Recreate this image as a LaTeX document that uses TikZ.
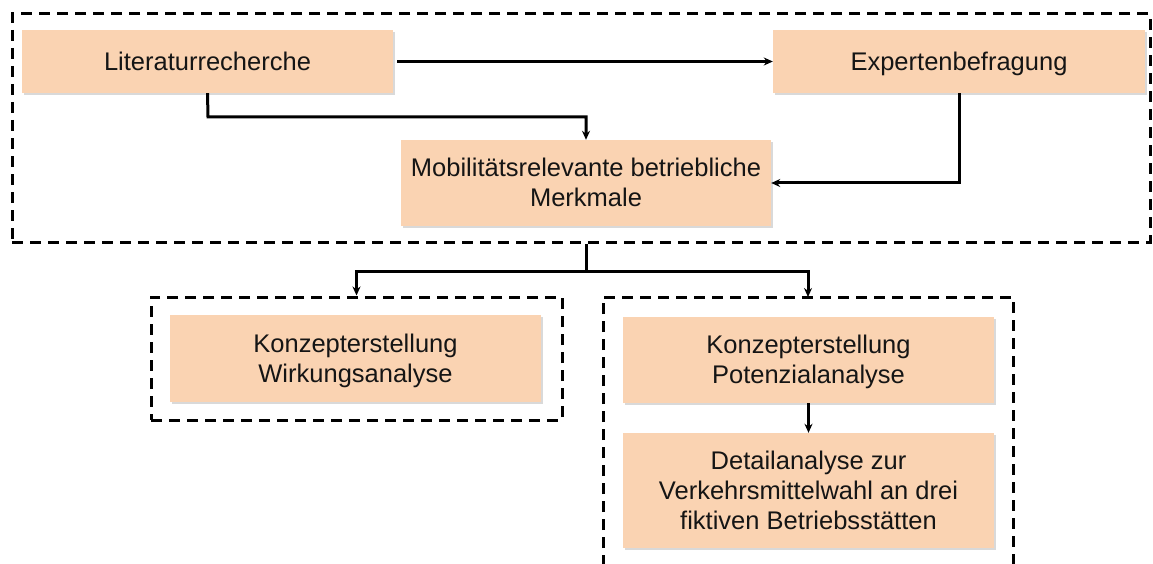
\documentclass[tikz,border=0pt]{standalone}
\usepackage{fontspec}
\setmainfont{Liberation Sans}
\usetikzlibrary{arrows.meta,shadows}
\definecolor{peach}{HTML}{FAD3B2}
\definecolor{ink}{HTML}{151515}
\newcommand{\bxs}{\rule[-5pt]{0pt}{28pt}}
\begin{document}
\begin{tikzpicture}[x=1pt,y=-1pt,
  box/.style={fill=peach,draw=none,inner sep=0pt,align=center,
    font=\fontsize{25.5}{30}\selectfont,text=ink,
    drop shadow={shadow xshift=1.5pt,shadow yshift=-2pt,opacity=0.25,fill=black!60}},
  grp/.style={draw=black,line width=3pt,dash pattern=on 11pt off 7pt},
  conn/.style={draw=black,line width=3pt,-{Stealth[length=9pt,width=8pt]}},
  plain/.style={draw=black,line width=3pt}]
\useasboundingbox (0,0) rectangle (1153,564);
% boxes
\node[box,minimum width=371pt,minimum height=63pt] (lit) at (207.5,61.5) {\bxs Literaturrecherche};
\node[box,minimum width=372pt,minimum height=63pt] (exp) at (959,61.5) {\bxs Expertenbefragung};
\node[box,minimum width=370pt,minimum height=86pt] (mob) at (586,183) {\bxs Mobilitätsrelevante betriebliche\\\bxs Merkmale};
\node[box,minimum width=371pt,minimum height=87pt] (wir) at (355.5,358.5) {\bxs Konzepterstellung\\\bxs Wirkungsanalyse};
\node[box,minimum width=371pt,minimum height=86pt] (pot) at (808.5,360) {\bxs Konzepterstellung\\\bxs Potenzialanalyse};
\node[box,minimum width=371pt,minimum height=115pt] (det) at (808.5,490.5) {\bxs Detailanalyse zur\\\bxs Verkehrsmittelwahl an drei\\\bxs fiktiven Betriebsstätten};
% group frames
\node[grp,minimum width=1138pt,minimum height=228pt,inner sep=0pt] (top) at (581,128) {};
\node[grp,minimum width=411pt,minimum height=123pt,inner sep=0pt] (left) at (356.5,358.5) {};
\coordinate (rtl) at (603,297);
\coordinate (rtr) at (1013,297);
\draw[grp] (603,566) -- (rtl) -- (rtr) -- (1013,566);
% connectors
\draw[conn] (lit.east) ++(4pt,0) -- (exp.west);
\draw[conn] (lit.south) -- (208,117) -| (mob.north);
\draw[conn] (exp.south) -- (959,183) -- (mob.east);
\coordinate (split) at (586,271);
\draw[plain] (top.south -| split) -- (split);
\draw[conn] (split) -| (left.north);
\coordinate (rtop) at (808,297);
\draw[conn] (split) -| (rtop);
\draw[conn] (pot.south) -- (det.north);
\end{tikzpicture}
\end{document}
